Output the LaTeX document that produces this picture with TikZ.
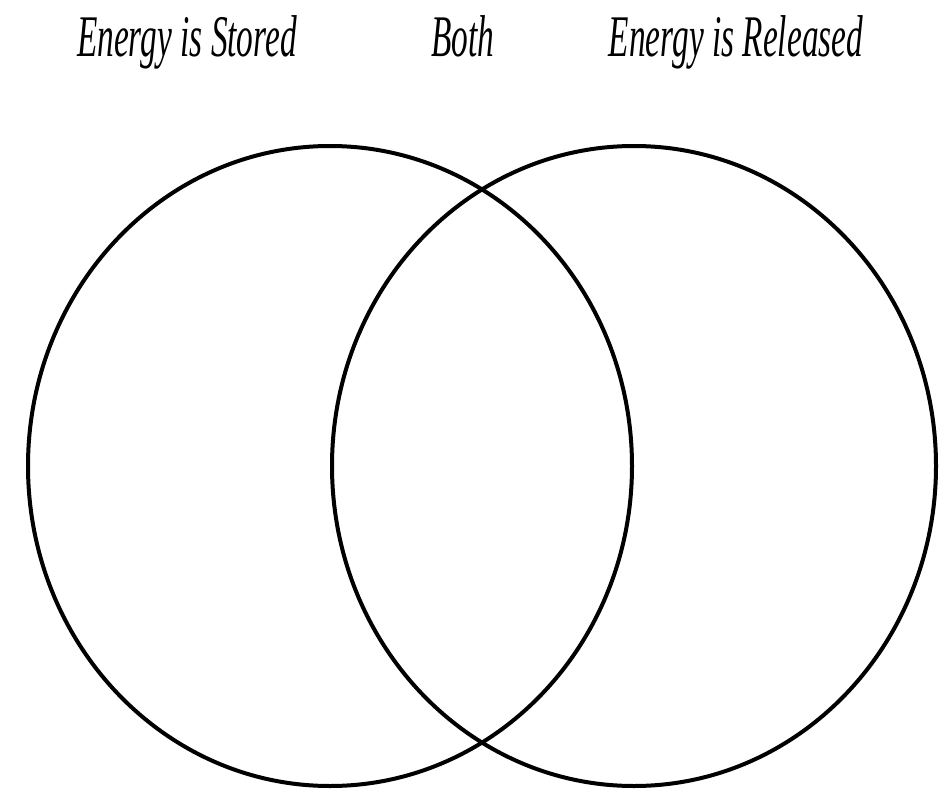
\documentclass[tikz,border=0pt]{standalone}
\usepackage{fontspec}
\setmainfont{Liberation Serif}
\usetikzlibrary{shapes.geometric}
\tikzset{
  setring/.style={ellipse, draw=black, line width=4pt, minimum width=604pt, minimum height=640pt, inner sep=0pt, outer sep=0pt},
  heading/.style={anchor=base, inner sep=0pt, font=\fontsize{59}{60}\selectfont\itshape, text=black}
}
\newcommand{\narrowtext}[1]{\scalebox{0.565}[1]{#1}}
\begin{document}
\begin{tikzpicture}[x=1pt,y=-1pt]
\useasboundingbox[fill=white] (0,0) rectangle (951,792);
\node[setring] (stored) at (330,466) {};
\node[setring] (released) at (634,466) {};
\node[heading] (tstored) at (187,57) {\narrowtext{Energy is Stored}};
\node[heading] (tboth) at (463,57) {\narrowtext{Both}};
\node[heading] (treleased) at (736,57) {\narrowtext{Energy is Released}};
\end{tikzpicture}
\end{document}
